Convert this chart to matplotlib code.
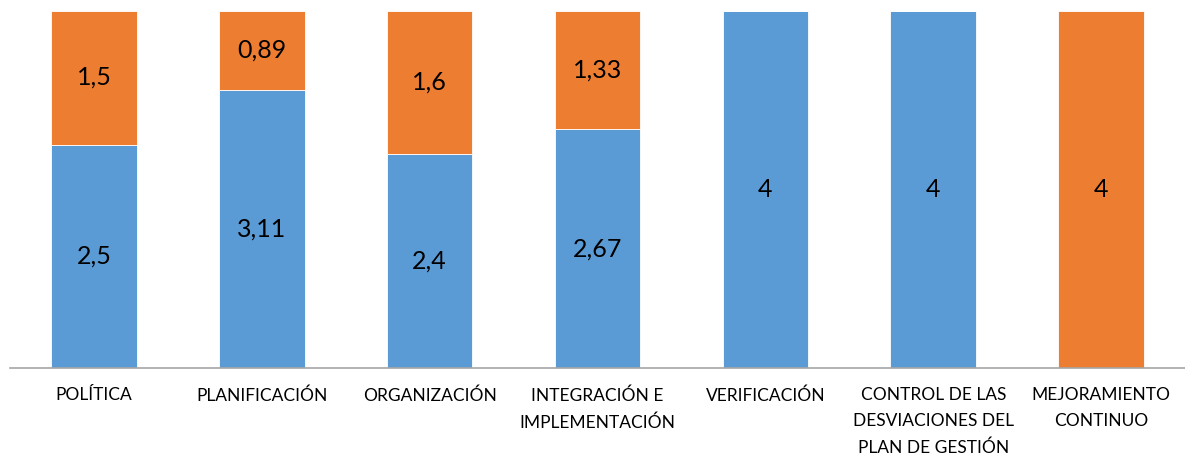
import matplotlib
matplotlib.use("Agg")
import matplotlib.pyplot as plt
import numpy as np

categories = ["POLÍTICA", "PLANIFICACIÓN", "ORGANIZACIÓN", "INTEGRACIÓN E\nIMPLEMENTACIÓN",
              "VERIFICACIÓN", "CONTROL DE LAS\nDESVIACIONES DEL\nPLAN DE GESTIÓN", "MEJORAMIENTO\nCONTINUO"]
blue_vals = [2.5, 3.11, 2.4, 2.67, 4, 4, 0]
orange_vals = [1.5, 0.89, 1.6, 1.33, 0, 0, 4]
blue_labels = ["2,5", "3,11", "2,4", "2,67", "4", "4", ""]
orange_labels = ["1,5", "0,89", "1,6", "1,33", "", "", "4"]

plt.rcParams['font.family'] = ['Lato', 'DejaVu Sans']

fig = plt.figure(figsize=(11.85, 4.57), dpi=100)
ax = fig.add_axes([10/1185, 1 - 368/457, 1175/1185, (368 - 10.5)/457])

x = np.arange(len(categories))
blue_c = "#5B9BD5"
orange_c = "#ED7D31"
ax.bar(x, blue_vals, width=0.51, color=blue_c, edgecolor="white", linewidth=0.6)
ax.bar(x, orange_vals, width=0.51, bottom=blue_vals, color=orange_c, edgecolor="white", linewidth=0.6)

for i in range(len(categories)):
    if blue_labels[i]:
        ax.text(x[i], blue_vals[i] / 2, blue_labels[i], ha="center", va="center", fontsize=18, color="black")
    if orange_labels[i]:
        ax.text(x[i], blue_vals[i] + orange_vals[i] / 2, orange_labels[i], ha="center", va="center",
                fontsize=18, color="black")

ax.set_xlim(-0.5, len(categories) - 0.5)
ax.set_ylim(0, 4)
ax.set_xticks(x)
ax.set_xticklabels(categories, fontsize=12.5, linespacing=1.75, va="top")
ax.tick_params(axis="x", length=0, pad=14)
ax.set_yticks([])
for s in ["top", "right", "left"]:
    ax.spines[s].set_visible(False)
ax.spines["bottom"].set_color("#A6A6A6")
ax.spines["bottom"].set_linewidth(1.2)

fig.savefig("out.png", dpi=100)
